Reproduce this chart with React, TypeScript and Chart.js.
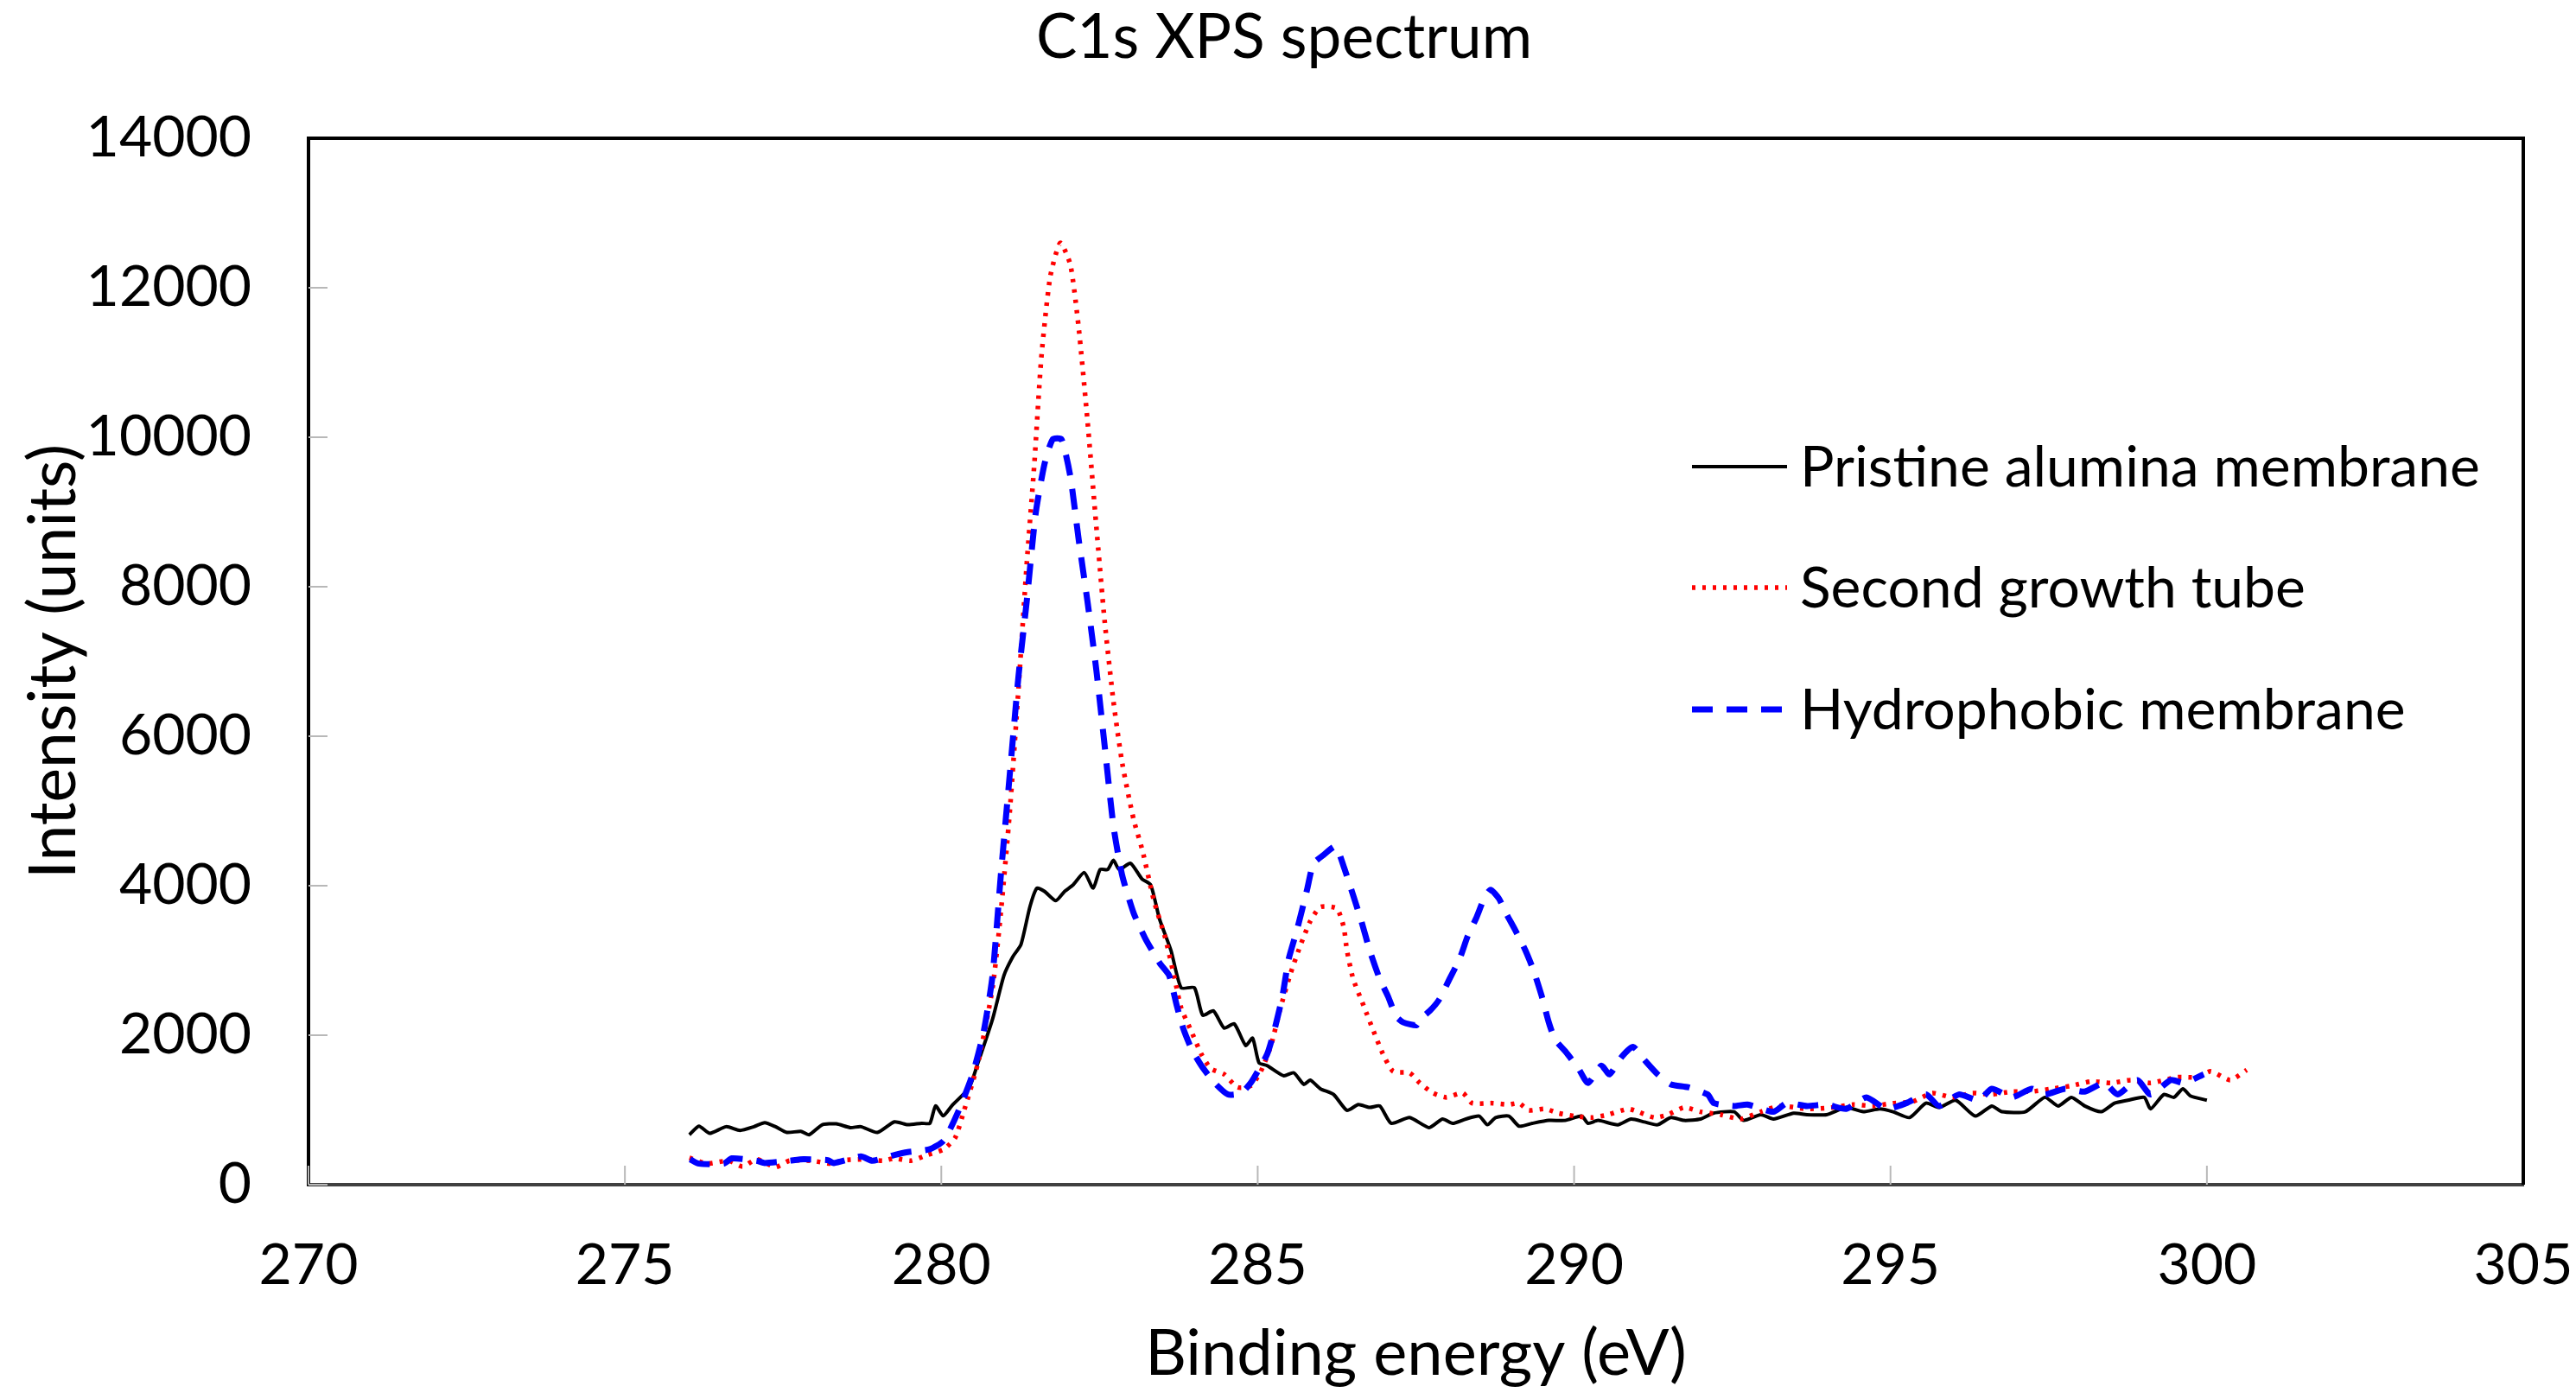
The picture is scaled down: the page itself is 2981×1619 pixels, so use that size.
import React, { useEffect, useRef } from 'react';
import { Chart, registerables } from 'chart.js';

Chart.register(...registerables);

const FONT = 'Lato, "Open Sans", sans-serif';

// Pristine alumina membrane
const pristineEnergy = [
  276.02, 276.17, 276.34, 276.6, 276.82, 277.04, 277.21, 277.38, 277.56, 277.78, 277.91,
  278.12, 278.34, 278.56, 278.73, 278.99, 279.26, 279.47, 279.69, 279.82, 279.91, 280.03,
  280.17, 280.44, 280.58, 280.81, 280.99, 281.13, 281.26, 281.4, 281.51, 281.63, 281.81,
  281.95, 282.08, 282.26, 282.4, 282.51, 282.63, 282.72, 282.81, 282.99, 283.17, 283.31,
  283.45, 283.63, 283.79, 284.0, 284.13, 284.3, 284.47, 284.63, 284.81, 284.92, 285.02,
  285.15, 285.41, 285.57, 285.73, 285.83, 285.99, 286.2, 286.41, 286.59, 286.77, 286.93,
  287.11, 287.4, 287.71, 287.92, 288.08, 288.29, 288.5, 288.63, 288.76, 288.97, 289.13,
  289.34, 289.6, 289.86, 290.12, 290.22, 290.38, 290.69, 290.9, 291.11, 291.32, 291.53,
  291.74, 292.0, 292.2, 292.53, 292.68, 292.95, 293.15, 293.47, 293.68, 293.99, 294.3,
  294.57, 294.83, 295.04, 295.3, 295.56, 295.77, 296.03, 296.34, 296.6, 296.76, 297.13,
  297.44, 297.65, 297.86, 298.07, 298.33, 298.54, 298.75, 299.01, 299.11, 299.32, 299.48,
  299.62, 299.74, 300.0,
];
const pristineIntensity = [
  668, 784, 687, 776, 726, 776, 830, 776, 699, 714, 668,
  803, 814, 764, 776, 699, 841, 803, 822, 822, 1054, 922,
  1060, 1298, 1631, 2215, 2799, 3049, 3216, 3717, 3967, 3925, 3800,
  3925, 4009, 4175, 3967, 4217, 4217, 4342, 4217, 4300, 4092, 4009,
  3550, 3133, 2635, 2635, 2268, 2326, 2095, 2152, 1863, 1960, 1632,
  1593, 1458, 1497, 1342, 1400, 1284, 1207, 995, 1072, 1034, 1053,
  821, 898, 764, 879, 821, 879, 918, 802, 898, 918, 783,
  821, 860, 860, 918, 821, 860, 802, 879, 840, 802, 898,
  860, 879, 957, 976, 860, 937, 879, 957, 937, 937, 1034,
  976, 1014, 976, 898, 1091, 1034, 1130, 918, 1053, 976, 976,
  1169, 1053, 1169, 1053, 976, 1091, 1130, 1169, 1014, 1207, 1169,
  1284, 1188, 1130,
];

// Second growth tube
const secondEnergy = [
  276.02, 276.3, 276.64, 276.86, 277.08, 277.38, 277.6, 277.95, 278.26, 278.47, 278.82,
  279.08, 279.26, 279.52, 279.78, 280.04, 280.22, 280.35, 280.58, 280.81, 280.94, 281.08,
  281.22, 281.35, 281.47, 281.58, 281.72, 281.88, 282.04, 282.17, 282.31, 282.45, 282.58,
  282.72, 282.86, 283.04, 283.18, 283.36, 283.54, 283.69, 283.79, 283.95, 284.11, 284.26,
  284.47, 284.68, 284.89, 285.05, 285.21, 285.36, 285.52, 285.68, 285.83, 285.99, 286.25,
  286.36, 286.41, 286.51, 286.67, 286.83, 286.98, 287.14, 287.4, 287.56, 287.77, 287.98,
  288.24, 288.39, 288.71, 288.97, 289.13, 289.28, 289.54, 289.75, 290.01, 290.28, 290.54,
  290.85, 291.01, 291.27, 291.48, 291.74, 292.0, 292.32, 292.63, 292.95, 293.26, 293.68,
  294.1, 294.41, 294.72, 295.04, 295.35, 295.66, 295.98, 296.29, 296.6, 296.92, 297.23,
  297.55, 297.86, 298.17, 298.49, 298.8, 299.11, 299.53, 299.85, 300.06, 300.37, 300.63,
];
const secondIntensity = [
  359, 282, 321, 243, 340, 236, 321, 321, 282, 328, 340,
  321, 352, 321, 398, 475, 629, 964, 1631, 2632, 3633, 4968,
  6636, 8304, 9639, 11057, 12141, 12600, 12308, 11474, 10223, 8805, 7553,
  6469, 5635, 4884, 4467, 3800, 3300, 2750, 2365, 2056, 1747, 1554,
  1477, 1304, 1323, 1516, 1863, 2365, 2828, 3213, 3522, 3715, 3696,
  3445, 3136, 2750, 2403, 2056, 1747, 1516, 1497, 1362, 1226, 1169,
  1226, 1091, 1091, 1072, 1091, 995, 1014, 957, 918, 898, 937,
  1014, 976, 898, 937, 1034, 976, 937, 879, 976, 1053, 1014,
  1034, 1072, 1053, 1091, 1111, 1226, 1169, 1226, 1207, 1246, 1246,
  1284, 1323, 1381, 1362, 1400, 1362, 1439, 1439, 1516, 1400, 1535,
];

// Hydrophobic membrane
const hydroEnergy = [
  276.03, 276.17, 276.56, 276.69, 277.08, 277.21, 277.6, 277.82, 278.21, 278.3, 278.73,
  278.91, 279.26, 279.47, 279.82, 280.04, 280.26, 280.49, 280.67, 280.81, 280.94, 281.08,
  281.22, 281.35, 281.49, 281.63, 281.76, 281.9, 282.04, 282.17, 282.31, 282.45, 282.58,
  282.72, 282.86, 283.04, 283.22, 283.45, 283.6, 283.72, 283.82, 283.95, 284.11, 284.32,
  284.53, 284.74, 284.89, 285.0, 285.15, 285.26, 285.39, 285.49, 285.62, 285.78, 285.88,
  286.04, 286.23, 286.36, 286.51, 286.64, 286.77, 286.93, 287.06, 287.19, 287.3, 287.51,
  287.56, 287.72, 287.87, 288.03, 288.19, 288.32, 288.45, 288.58, 288.68, 288.81, 288.92,
  289.07, 289.23, 289.36, 289.49, 289.6, 289.7, 289.86, 290.07, 290.22, 290.43, 290.56,
  290.75, 290.93, 291.11, 291.32, 291.53, 291.8, 292.11, 292.21, 292.53, 292.74, 293.15,
  293.36, 293.68, 293.99, 294.3, 294.62, 294.93, 295.25, 295.56, 295.77, 296.08, 296.4,
  296.6, 296.92, 297.23, 297.44, 297.76, 298.07, 298.38, 298.59, 298.9, 299.11, 299.43,
  299.64, 299.95,
];
const hydroIntensity = [
  340, 282, 282, 352, 321, 290, 321, 340, 328, 290, 379,
  321, 398, 436, 475, 591, 964, 1464, 2048, 2799, 4134, 5468,
  6803, 7804, 8971, 9639, 9972, 9972, 9472, 8638, 7804, 6886, 5885,
  4801, 4134, 3633, 3300, 2966, 2800, 2400, 2100, 1825, 1593, 1362,
  1207, 1226, 1362, 1516, 1747, 2056, 2519, 3020, 3406, 3946, 4294,
  4410, 4525, 4255, 3869, 3522, 3136, 2750, 2519, 2249, 2172, 2133,
  2210, 2326, 2480, 2750, 3020, 3329, 3561, 3831, 3946, 3831, 3638,
  3406, 3136, 2866, 2519, 2172, 1940, 1786, 1554, 1362, 1593, 1477,
  1709, 1844, 1670, 1477, 1342, 1304, 1207, 1091, 1053, 1072, 976,
  1091, 1053, 1072, 1014, 1169, 1014, 1091, 1207, 1053, 1207, 1130,
  1284, 1169, 1284, 1207, 1284, 1246, 1362, 1207, 1400, 1207, 1400,
  1362, 1477,
];

const seriesLabels = ['Pristine alumina membrane', 'Second growth tube', 'Hydrophobic membrane'];

const toPoints = (xs: number[], ys: number[]) => xs.map((x, i) => ({ x, y: ys[i] }));

// title, legend box, inside ticks and the plot frame
const decorations = {
  id: 'decorations',
  afterDraw(chart: any) {
    const { ctx, chartArea, scales } = chart;
    ctx.save();

    // title
    ctx.fillStyle = '#000';
    ctx.font = `71px ${FONT}`;
    ctx.textAlign = 'center';
    ctx.textBaseline = 'middle';
    ctx.fillText('C1s XPS spectrum', 1486, 44);

    // inside tick marks
    ctx.strokeStyle = '#b8b8b8';
    ctx.lineWidth = 2;
    scales.x.ticks.forEach((t: any) => {
      const px = scales.x.getPixelForValue(t.value);
      ctx.beginPath();
      ctx.moveTo(px, chartArea.bottom);
      ctx.lineTo(px, chartArea.bottom - 22);
      ctx.stroke();
    });
    scales.y.ticks.forEach((t: any) => {
      const py = scales.y.getPixelForValue(t.value);
      ctx.beginPath();
      ctx.moveTo(chartArea.left, py);
      ctx.lineTo(chartArea.left + 22, py);
      ctx.stroke();
    });

    // top and right frame
    ctx.strokeStyle = '#000';
    ctx.lineWidth = 4;
    ctx.beginPath();
    ctx.moveTo(chartArea.left, chartArea.top);
    ctx.lineTo(chartArea.right, chartArea.top);
    ctx.lineTo(chartArea.right, chartArea.bottom);
    ctx.stroke();

    // legend
    const rows = [540, 680, 821];
    chart.data.datasets.forEach((ds: any, i: number) => {
      const y = rows[i];
      ctx.strokeStyle = ds.borderColor;
      ctx.lineWidth = ds.borderWidth;
      ctx.setLineDash(ds.borderDash || []);
      ctx.beginPath();
      ctx.moveTo(1958, y);
      ctx.lineTo(2068, y);
      ctx.stroke();
      ctx.setLineDash([]);
      ctx.fillStyle = '#000';
      ctx.font = `66px ${FONT}`;
      ctx.textAlign = 'left';
      ctx.textBaseline = 'middle';
      ctx.fillText(ds.label, 2083, y + 2);
    });

    ctx.restore();
  },
};

const App: React.FC = () => {
  const canvasRef = useRef<HTMLCanvasElement>(null);
  const chartRef = useRef<Chart | null>(null);

  useEffect(() => {
    document.body.style.margin = '0';
    if (!canvasRef.current) return;
    if (chartRef.current) chartRef.current.destroy();

    chartRef.current = new Chart(canvasRef.current, {
      type: 'line',
      data: {
        datasets: [
          {
            label: seriesLabels[0],
            data: toPoints(pristineEnergy, pristineIntensity),
            borderColor: '#000000',
            borderWidth: 4,
            pointRadius: 0,
            tension: 0.2,
            order: 3,
          },
          {
            label: seriesLabels[1],
            data: toPoints(secondEnergy, secondIntensity),
            borderColor: '#ff0000',
            borderWidth: 5.5,
            borderDash: [4, 8],
            pointRadius: 0,
            tension: 0.2,
            order: 2,
          },
          {
            label: seriesLabels[2],
            data: toPoints(hydroEnergy, hydroIntensity),
            borderColor: '#0000ff',
            borderWidth: 7,
            borderDash: [24, 16],
            pointRadius: 0,
            tension: 0.2,
            order: 1,
          },
        ],
      },
      options: {
        animation: false,
        responsive: false,
        devicePixelRatio: 1,
        layout: { padding: { top: 160, right: 61, bottom: 0, left: 0 } },
        plugins: {
          legend: { display: false },
          tooltip: { enabled: false },
        },
        scales: {
          x: {
            type: 'linear',
            min: 270,
            max: 305,
            afterFit: (scale: any) => {
              scale.height = 248;
              scale.paddingLeft = 0;
              scale.paddingRight = 0;
            },
            ticks: {
              stepSize: 5,
              padding: 54,
              color: '#000',
              font: { family: FONT, size: 66 },
            },
            grid: { drawOnChartArea: false, drawTicks: false },
            border: { color: '#404040', width: 4 },
            title: {
              display: true,
              text: 'Binding energy (eV)',
              color: '#000',
              font: { family: FONT, size: 74 },
              padding: { top: 0, bottom: 7 },
            },
          },
          y: {
            min: 0,
            max: 14000,
            afterFit: (scale: any) => {
              scale.width = 357;
              scale.paddingTop = 0;
              scale.paddingBottom = 0;
            },
            ticks: {
              stepSize: 2000,
              padding: 66,
              color: '#000',
              font: { family: FONT, size: 66 },
              callback: (v: any) => String(v),
            },
            grid: { drawOnChartArea: false, drawTicks: false },
            border: { color: '#000', width: 4 },
            title: {
              display: true,
              text: 'Intensity (units)',
              color: '#000',
              font: { family: FONT, size: 75 },
              padding: { top: 18, bottom: 18 },
            },
          },
        },
      },
      plugins: [decorations],
    });

    return () => {
      if (chartRef.current) {
        chartRef.current.destroy();
        chartRef.current = null;
      }
    };
  }, []);

  return (
    <div style={{ width: 2981, height: 1619, background: '#fff' }}>
      <canvas ref={canvasRef} width={2981} height={1619}></canvas>
    </div>
  );
};

export default App;
